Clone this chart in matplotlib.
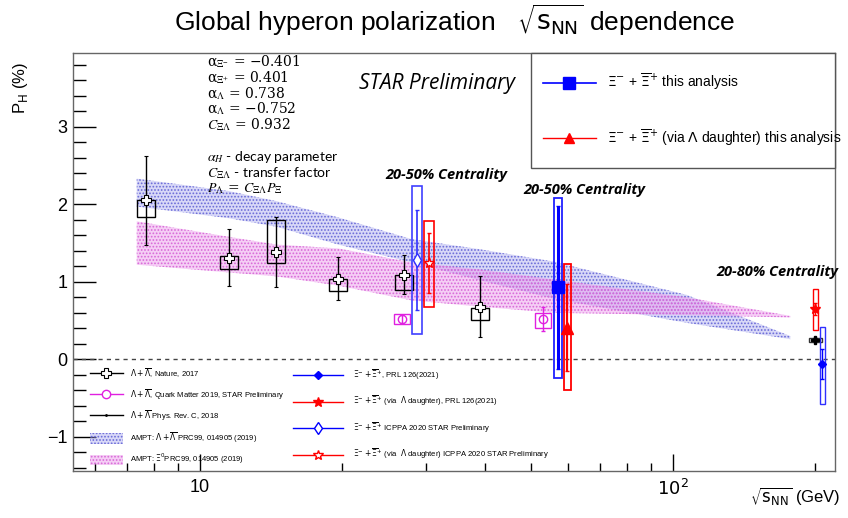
import numpy as np
import matplotlib
matplotlib.use('Agg')
import matplotlib.pyplot as plt
from matplotlib.patches import Rectangle, Patch
from matplotlib.lines import Line2D
from matplotlib.ticker import FixedLocator, FuncFormatter, NullFormatter, MultipleLocator

plt.rcParams['font.family'] = ['Liberation Sans', 'DejaVu Sans']
plt.rcParams['hatch.linewidth'] = 0.8

# ---- data ----
# Lambda + anti-Lambda, Nature 2017
nat_x = [7.7, 11.5, 14.5, 19.6, 27.0, 39.0]
nat_y = [2.05, 1.31, 1.38, 1.04, 1.09, 0.68]
nat_stat = [0.57, 0.37, 0.45, 0.28, 0.25, 0.39]
nat_sys_lo = [1.84, 1.16, 1.24, 0.88, 0.90, 0.51]
nat_sys_hi = [2.06, 1.33, 1.80, 1.04, 1.09, 0.66]

# Lambda + anti-Lambda, Quark Matter 2019
qm_x = [26.7, 53.0]
qm_y = [0.52, 0.52]
qm_stat = [0.05, 0.15]
qm_sys_lo = [0.46, 0.41]
qm_sys_hi = [0.59, 0.60]

# Lambda + anti-Lambda, PRC 2018 (200 GeV)
prc_x = [200.0]
prc_y = [0.25]
prc_stat = [0.02]
prc_sys_lo = [0.22]
prc_sys_hi = [0.27]

# Xi, PRL 126 (2021)
prl_xi_x = [207.0]
prl_xi_y = [-0.06]
prl_xi_stat = [0.19]
prl_xi_sys_lo = [-0.57]
prl_xi_sys_hi = [0.42]

prl_xil_x = [200.0]
prl_xil_y = [0.65]
prl_xil_stat = [0.08]
prl_xil_sys_lo = [0.38]
prl_xil_sys_hi = [0.91]

# Xi, ICPPA 2020 STAR Preliminary
icp_xi_x = [28.8]
icp_xi_y = [1.28]
icp_xi_stat = [0.65]
icp_xi_sys_lo = [0.33]
icp_xi_sys_hi = [2.23]

icp_xil_x = [30.5]
icp_xil_y = [1.24]
icp_xil_stat = [0.39]
icp_xil_sys_lo = [0.68]
icp_xil_sys_hi = [1.79]

# Xi, this analysis
ana_xi_x = [57.2]
ana_xi_y = [0.93]
ana_xi_stat = [1.05]
ana_xi_sys_lo = [-0.24]
ana_xi_sys_hi = [2.08]

ana_xil_x = [59.8]
ana_xil_y = [0.41]
ana_xil_stat = [0.56]
ana_xil_sys_lo = [-0.40]
ana_xil_sys_hi = [1.23]

# AMPT bands
band_x = [7.35, 11.5, 14.5, 19.6, 28.0, 39.0, 56.0, 107.0, 177.0]
ampt_lam_hi = [2.33, 2.17, 2.04, 1.83, 1.55, 1.42, 1.26, 0.83, 0.30]
ampt_lam_lo = [1.97, 1.82, 1.71, 1.48, 1.25, 1.02, 0.78, 0.47, 0.26]
ampt_xi_hi = [1.78, 1.58, 1.48, 1.43, 1.25, 1.16, 1.03, 0.80, 0.56]
ampt_xi_lo = [1.22, 1.12, 1.07, 0.95, 0.76, 0.68, 0.60, 0.57, 0.54]

note_vals = ['α$_{\\Xi^{-}}$ = −0.401', 'α$_{\\Xi^{+}}$ = 0.401', 'α$_{\\Lambda}$ = 0.738',
             'α$_{\\Lambda}$ = −0.752', '$C_{\\Xi\\Lambda}$ = 0.932']

W, H = 848, 518
fig = plt.figure(figsize=(W / 100, H / 100), dpi=100)
ax = fig.add_axes([73 / W, 1 - 471 / H, 762 / W, 418 / H])
ax.set_xscale('log')
ax.set_xlim(5.39, 220)
ax.set_ylim(-1.44, 3.95)

lam_face = (0.62, 0.62, 0.93, 0.4)
xi_face = (0.92, 0.58, 0.92, 0.45)

# bands
ax.fill_between(band_x, ampt_lam_lo, ampt_lam_hi, facecolor=lam_face,
                edgecolor='#6a6ad8', hatch='.....', lw=0, zorder=1)
ax.fill_between(band_x, ampt_xi_lo, ampt_xi_hi, facecolor=xi_face,
                edgecolor='#d868d8', hatch='.....', lw=0, zorder=1)

ax.axhline(0, ls=(0, (3, 3)), color='#444444', lw=1, zorder=2)


def sys_boxes(x, lo, hi, color, hw, lw=1.0):
    for xi, l, h in zip(x, lo, hi):
        x0 = xi * 10 ** (-hw)
        x1 = xi * 10 ** hw
        ax.add_patch(Rectangle((x0, l), x1 - x0, h - l, fill=False,
                               edgecolor=color, lw=lw, zorder=3))


sys_boxes(nat_x, nat_sys_lo, nat_sys_hi, 'black', 0.019)
sys_boxes(qm_x, qm_sys_lo, qm_sys_hi, '#e020e0', 0.017)
sys_boxes(prc_x, prc_sys_lo, prc_sys_hi, '#333333', 0.0137)
sys_boxes(prl_xi_x, prl_xi_sys_lo, prl_xi_sys_hi, '#3030ff', 0.0045)
sys_boxes(prl_xil_x, prl_xil_sys_lo, prl_xil_sys_hi, 'red', 0.0056)
sys_boxes(icp_xi_x, icp_xi_sys_lo, icp_xi_sys_hi, '#4040ff', 0.011, 1.2)
sys_boxes(icp_xil_x, icp_xil_sys_lo, icp_xil_sys_hi, 'red', 0.0098, 1.2)
sys_boxes(ana_xi_x, ana_xi_sys_lo, ana_xi_sys_hi, '#2020ff', 0.008, 1.3)
sys_boxes(ana_xil_x, ana_xil_sys_lo, ana_xil_sys_hi, 'red', 0.008, 1.3)

eb = dict(ls='none', capsize=1.5, zorder=4)
ax.errorbar(nat_x, nat_y, yerr=nat_stat, fmt='P', ms=6.5, mfc='white', mec='black',
            mew=0.8, ecolor='black', elinewidth=1, **eb)
ax.errorbar(qm_x, qm_y, yerr=qm_stat, fmt='o', ms=6, mfc='none', mec='#e020e0',
            ecolor='#e020e0', elinewidth=1, **eb)
ax.errorbar(prc_x, prc_y, yerr=prc_stat, fmt='P', ms=6, color='black', **eb)
ax.errorbar(prl_xi_x, prl_xi_y, yerr=prl_xi_stat, fmt='D', ms=4, color='blue',
            elinewidth=1, **eb)
ax.errorbar(prl_xil_x, prl_xil_y, yerr=prl_xil_stat, fmt='*', ms=8, color='red',
            elinewidth=1, **eb)
ax.errorbar(icp_xi_x, icp_xi_y, yerr=icp_xi_stat, fmt='d', ms=7, mfc='white',
            mec='#3030ff', ecolor='#3030ff', elinewidth=1.2, **eb)
ax.errorbar(icp_xil_x, icp_xil_y, yerr=icp_xil_stat, fmt='*', ms=8, mfc='white',
            mec='red', ecolor='red', elinewidth=1.2, **eb)
ax.errorbar(ana_xi_x, ana_xi_y, yerr=ana_xi_stat, fmt='s', ms=8, color='blue',
            elinewidth=2.2, **eb)
ax.errorbar(ana_xil_x, ana_xil_y, yerr=ana_xil_stat, fmt='^', ms=8, color='red',
            elinewidth=1.6, **eb)

# axes styling
for s in ax.spines.values():
    s.set_color('#666666')
    s.set_linewidth(1.0)
ax.yaxis.set_major_locator(FixedLocator([-1, 0, 1, 2, 3]))
ax.yaxis.set_minor_locator(MultipleLocator(0.2))
ax.xaxis.set_major_locator(FixedLocator([10, 100]))
ax.xaxis.set_minor_locator(FixedLocator([6, 7, 8, 9, 20, 30, 40, 50, 60, 70, 80, 90, 200]))
ax.xaxis.set_major_formatter(FuncFormatter(lambda v, p: '10' if v < 50 else '$10^{2}$'))
ax.xaxis.set_minor_formatter(NullFormatter())
ax.tick_params(axis='y', which='major', direction='in', length=16.5, width=1, labelsize=13, pad=4)
ax.tick_params(axis='y', which='minor', direction='in', length=9.5, width=1)
ax.tick_params(axis='x', which='major', direction='in', length=12, width=1, labelsize=13, pad=6)
ax.tick_params(axis='x', which='minor', direction='in', length=6, width=1)


def ftxt(x, y, s, **kw):
    fig.text(x / W, 1 - y / H, s, **kw)


ftxt(455, 20, r'Global hyperon polarization   $\sqrt{\mathsf{s}_{\mathsf{NN}}}$ dependence',
     ha='center', va='center', fontsize=19, math_fontfamily='dejavusans')
ftxt(20, 88, r'P$_{\mathsf{H}}$ (%)', rotation=90, ha='center', va='center',
     fontsize=12, math_fontfamily='dejavusans')
ftxt(795, 497, r'$\sqrt{\mathsf{s}_{\mathsf{NN}}}$ (GeV)', ha='center', va='center',
     fontsize=12, math_fontfamily='dejavusans')

for i, s in enumerate(note_vals):
    ftxt(207, 61.7 + 15.7 * i, s, ha='left', va='center', fontsize=10,
         fontfamily='DejaVu Serif', math_fontfamily='stix')
ftxt(207, 157.3, r'$\alpha_{H}$ - decay parameter', ha='left', va='center', fontsize=10,
     fontfamily='Lato', math_fontfamily='stix')
ftxt(207, 172.7, r'$C_{\Xi\Lambda}$ - transfer factor', ha='left', va='center', fontsize=10,
     fontfamily='Lato', math_fontfamily='stix')
ftxt(207, 188.3, r'$P_{\Lambda}$ = $C_{\Xi\Lambda}P_{\Xi}$', ha='left', va='center', fontsize=10,
     fontfamily='DejaVu Serif', math_fontfamily='stix')

ftxt(437, 83, 'STAR Preliminary', ha='center', va='center', fontsize=15,
     fontfamily='Open Sans', style='italic')
ftxt(446, 175, '20-50% Centrality', ha='center', va='center', fontsize=10.5,
     fontfamily='Open Sans', style='italic', weight='bold')
ftxt(584, 190, '20-50% Centrality', ha='center', va='center', fontsize=10.5,
     fontfamily='Open Sans', style='italic', weight='bold')
ftxt(777, 272, '20-80% Centrality', ha='center', va='center', fontsize=10.5,
     fontfamily='Open Sans', style='italic', weight='bold')

# top right legend box
ax.add_patch(Rectangle(((531 - 73) / 762, (471 - 168) / 418), (835 - 531) / 762, 115 / 418,
                       transform=ax.transAxes, fill=True, facecolor='white',
                       edgecolor='#555555', lw=1.0, zorder=6, clip_on=False))
top_handles = [Line2D([], [], color='blue', marker='s', ms=8, lw=1.2),
               Line2D([], [], color='red', marker='^', ms=7, lw=1.0)]
top_labels = [r'$\Xi^{-}$ + $\overline{\Xi}^{+}$ this analysis',
              r'$\Xi^{-}$ + $\overline{\Xi}^{+}$ (via $\Lambda$ daughter) this analysis']
leg_top = ax.legend(top_handles, top_labels, loc='upper left',
                    bbox_to_anchor=((543 - 73) / 762, (471 - 72) / 418),
                    frameon=False, fontsize=10, handlelength=3.8, handletextpad=0.8,
                    labelspacing=2.5, borderpad=0, borderaxespad=0)
leg_top.set_zorder(7)
ax.add_artist(leg_top)

# bottom legends
left_handles = [Line2D([], [], color='black', marker='P', ms=6.5, mfc='white', mew=0.8, lw=1),
                Line2D([], [], color='#e020e0', marker='o', ms=6, mfc='white', lw=1),
                Line2D([], [], color='black', marker='.', ms=2, lw=1),
                Patch(facecolor=lam_face, edgecolor='#6a6ad8', hatch='.....', lw=0),
                Patch(facecolor=xi_face, edgecolor='#d868d8', hatch='.....', lw=0)]
left_labels = [r'$\Lambda+\overline{\Lambda}$, Nature, 2017',
               r'$\Lambda+\overline{\Lambda}$, Quark Matter 2019, STAR Preliminary',
               r'$\Lambda+\overline{\Lambda}$ Phys. Rev. C, 2018',
               r'AMPT: $\Lambda+\overline{\Lambda}$ PRC99, 014905 (2019)',
               r'AMPT: $\Xi^{0}$PRC99, 014905 (2019)']
leg_left = ax.legend(left_handles, left_labels, loc='upper left',
                     bbox_to_anchor=((90 - 73) / 762, (471 - 366) / 418),
                     frameon=False, fontsize=5.5, handlelength=4.3, handleheight=1.8,
                     handletextpad=1.0, labelspacing=0.9, borderpad=0, borderaxespad=0)
ax.add_artist(leg_left)

right_handles = [Line2D([], [], color='blue', marker='D', ms=4, lw=1),
                 Line2D([], [], color='red', marker='*', ms=7, lw=1),
                 Line2D([], [], color='blue', marker='d', ms=6, mfc='white', lw=1),
                 Line2D([], [], color='red', marker='*', ms=7, mfc='white', lw=1)]
right_labels = [r'$\Xi^{-}+\overline{\Xi}^{+}$, PRL 126(2021)',
                r'$\Xi^{-}+\overline{\Xi}^{+}$ (via  $\Lambda$ daughter), PRL 126(2021)',
                r'$\Xi^{-}+\overline{\Xi}^{+}$ ICPPA 2020 STAR Preliminary',
                r'$\Xi^{-}+\overline{\Xi}^{+}$ (via  $\Lambda$ daughter) ICPPA 2020 STAR Preliminary']
leg_right = ax.legend(right_handles, right_labels, loc='upper left',
                      bbox_to_anchor=((293 - 73) / 762, (471 - 367) / 418),
                      frameon=False, fontsize=5.5, handlelength=6.6, handletextpad=1.3,
                      labelspacing=1.52, borderpad=0, borderaxespad=0)

fig.savefig('out.png', dpi=100)
